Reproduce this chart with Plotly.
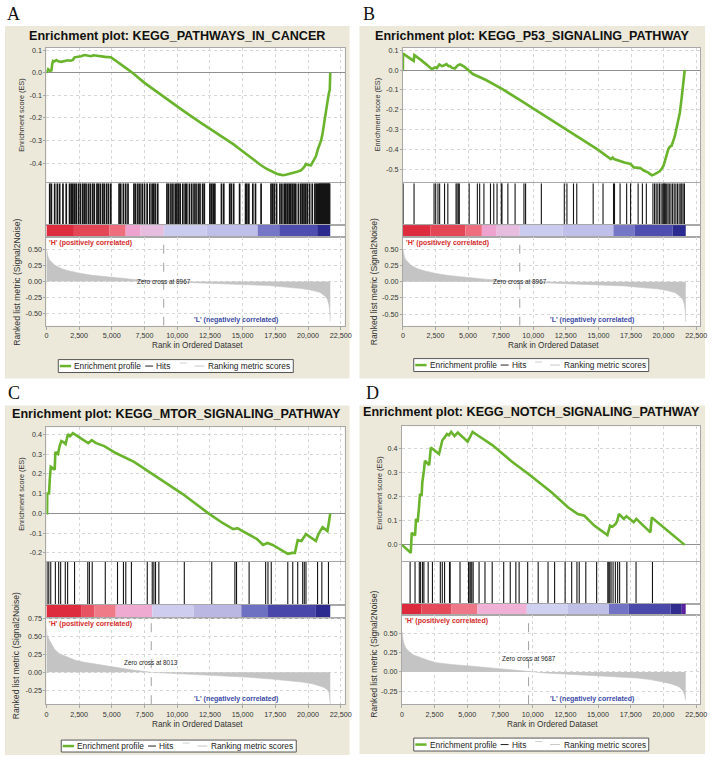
import plotly.graph_objects as go

W, H = 714, 757
FONT = "Liberation Sans, Arial, sans-serif"

# ----------------------------- data -----------------------------
x_tick_vals = [0, 2500, 5000, 7500, 10000, 12500, 15000, 17500, 20000, 22500]
x_tick_text = ["0", "2,500", "5,000", "7,500", "10,000", "12,500", "15,000",
               "17,500", "20,000", "22,500"]
x_max = 22800

panel_letters = ["A", "B", "C", "D"]
panel_titles = ["Enrichment plot: KEGG_PATHWAYS_IN_CANCER",
                "Enrichment plot: KEGG_P53_SIGNALING_PATHWAY",
                "Enrichment plot: KEGG_MTOR_SIGNALING_PATHWAY",
                "Enrichment plot: KEGG_NOTCH_SIGNALING_PATHWAY"]
zero_cross = [8967, 8967, 8013, 9687]

a_es_ticks = [-0.4, -0.3, -0.2, -0.1, 0.0, 0.1]
b_es_ticks = [-0.5, -0.4, -0.3, -0.2, -0.1, 0.0, 0.1]
c_es_ticks = [-0.2, -0.1, 0.0, 0.1, 0.2, 0.3, 0.4]
d_es_ticks = [0.0, 0.1, 0.2, 0.3, 0.4]
ab_met_ticks = [-0.5, -0.25, 0.0, 0.25, 0.5]
c_met_ticks = [-0.25, 0.0, 0.25, 0.5, 0.75]
d_met_ticks = [-0.25, 0.0, 0.25, 0.5]

# Panel A: running enrichment score
a_es_rank = [0, 60, 130, 250, 380, 450, 506, 620, 758, 900, 1138, 1400, 1643, 1850, 2022,
             2149, 2400, 2650, 2907, 3150, 3413, 3600, 3792, 4000, 4171, 4500, 4930, 5100,
             5309, 5900, 6573, 7500, 9227, 10500, 11755, 13000, 14283, 15100, 15800, 16300,
             16811, 17200, 17570, 17800, 18075, 18300, 18600, 18834, 19100, 19466, 19700,
             19845, 20000, 20224, 20400, 20603, 20750, 20856, 21000, 21109, 21200, 21311,
             21400, 21488, 21580, 21665, 21700]
a_es_val = [0.0, 0.012, 0.015, 0.008, 0.01, 0.04, 0.052, 0.05, 0.056, 0.05, 0.048, 0.052,
            0.055, 0.053, 0.056, 0.068, 0.07, 0.073, 0.078, 0.074, 0.073, 0.077, 0.075, 0.072,
            0.071, 0.07, 0.068, 0.062, 0.053, 0.028, 0.0, -0.045, -0.118, -0.17, -0.22,
            -0.268, -0.316, -0.352, -0.385, -0.405, -0.425, -0.437, -0.446, -0.45, -0.454,
            -0.452, -0.448, -0.445, -0.44, -0.432, -0.418, -0.404, -0.408, -0.41, -0.39,
            -0.37, -0.34, -0.325, -0.3, -0.27, -0.235, -0.19, -0.15, -0.118, -0.095, -0.075,
            0.0]
a_hits = [253, 379, 631, 833, 1010, 1263, 1515, 1768, 1894, 2020, 2146, 2273, 2449, 2601,
          2778, 2904, 3030, 3207, 3358, 3535, 3661, 3863, 3964, 4116, 4293, 4419, 4596, 4747,
          4924, 5555, 5681, 5883, 6060, 6237, 6691, 6818, 6994, 7146, 7323, 7499, 7701, 7903,
          8080, 8206, 8333, 8509, 9216, 9343, 9519, 9671, 9848, 9974, 10100, 10226, 10428,
          10605, 10731, 10933, 11110, 11287, 11438, 11615, 11741, 11943, 12070, 12499, 12625,
          12751, 12878, 13383, 13559, 14014, 14140, 14317, 14771, 15226, 15327, 15478, 15781,
          15983, 16413, 17170, 17296, 17423, 17599, 17852, 18003, 18180, 18306, 18433, 18559,
          18685, 18811, 18938, 19064, 19266, 19443, 19569, 19695, 19821, 19948, 20124, 20326,
          20528, 20629, 20730, 20831, 20900, 20958, 21020, 21084, 21150, 21210, 21270, 21336,
          21400, 21463, 21530, 21589, 21650]

# Panel B: running enrichment score
b_es_rank = [0, 10, 832, 882, 1400, 2000, 2218, 2470, 2600, 2797, 3000, 3100, 3352, 3500,
             3604, 3750, 3982, 4234, 4410, 4700, 5368, 6376, 7636, 8900, 10156, 11400, 12676,
             13936, 14900, 15952, 16100, 16200, 16500, 17000, 17464, 17716, 18220, 18472,
             18800, 19102, 19300, 19480, 19700, 19858, 20000, 20110, 20250, 20362, 20500,
             20614, 20750, 20866, 21000, 21118, 21244, 21370, 21496, 21560, 21622]
b_es_val = [0.0, 0.083, 0.046, 0.075, 0.05, 0.015, 0.005, 0.013, 0.01, 0.028, 0.02, 0.022,
            0.03, 0.02, 0.02, 0.012, 0.008, 0.025, 0.028, 0.018, -0.02, -0.05, -0.096,
            -0.148, -0.2, -0.252, -0.305, -0.357, -0.398, -0.448, -0.44, -0.448, -0.455,
            -0.465, -0.473, -0.49, -0.493, -0.506, -0.515, -0.53, -0.525, -0.517, -0.51,
            -0.497, -0.48, -0.456, -0.42, -0.398, -0.385, -0.381, -0.355, -0.332, -0.29,
            -0.249, -0.216, -0.149, -0.066, -0.03, 0.0]
b_hits = [15, 856, 2391, 2517, 2693, 2819, 3196, 3448, 4077, 4153, 4254, 4329, 5084, 5714,
          5890, 6217, 6720, 6972, 7224, 7551, 7601, 8054, 8608, 9288, 9414, 10622, 12384,
          12585, 13088, 13340, 14599, 15354, 16159, 16235, 16663, 17166, 17468, 18047, 18374,
          18676, 19180, 19306, 19431, 19557, 19683, 19809, 19935, 20010, 20061, 20136, 20237,
          20338, 20438, 20564, 20690, 20816, 20942, 21068, 21194, 21319, 21395, 21496, 21600]

# Panel C: running enrichment score
c_es_rank = [0, 50, 60, 200, 253, 330, 550, 632, 683, 885, 1011, 1138, 1300, 1466, 1643,
             1800, 2022, 2500, 3034, 3200, 3463, 3800, 4424, 5300, 6700, 8500, 10365, 12387,
             13500, 14283, 14600, 15000, 15500, 16100, 16558, 16900, 17300, 17900, 18454,
             18800, 19000, 19213, 19500, 19845, 20200, 20603, 20800, 21109, 21300, 21488,
             21600, 21700]
c_es_val = [0.0, 0.0, 0.1, 0.1, 0.17, 0.235, 0.225, 0.22, 0.31, 0.30, 0.34, 0.365, 0.36,
            0.35, 0.40, 0.39, 0.405, 0.385, 0.36, 0.355, 0.37, 0.355, 0.34, 0.305, 0.26,
            0.18, 0.1, 0.0, -0.05, -0.08, -0.075, -0.09, -0.11, -0.13, -0.16, -0.15, -0.16,
            -0.185, -0.205, -0.2, -0.2, -0.135, -0.14, -0.105, -0.12, -0.14, -0.105, -0.07,
            -0.08, -0.09, -0.045, 0.0]
c_hits = [50, 180, 330, 683, 935, 1087, 1441, 1620, 2149, 3160, 3286, 3500, 4500, 5435,
          5890, 6067, 6497, 7710, 8090, 8216, 8342, 8595, 10542, 12640, 14410, 14536, 15497,
          16761, 16938, 17190, 18454, 18834, 19213, 19592, 19718, 19845, 20730, 21058, 21564]

# Panel D: running enrichment score
d_es_rank = [0, 679, 754, 1006, 1081, 1207, 1307, 1383, 1508, 1559, 1684, 1760, 2087, 2212,
             2841, 2941, 3092, 3268, 3444, 3600, 3771, 4022, 4274, 5028, 5405, 5782, 6285,
             6914, 8422, 9679, 11439, 12696, 13450, 13953, 14707, 15713, 15914, 16100, 16341,
             16466, 16592, 16800, 16970, 17170, 17724, 17925, 19000, 19106, 21620]
d_es_val = [0.0, -0.033, 0.05, 0.039, 0.108, 0.094, 0.156, 0.211, 0.204, 0.259, 0.308,
            0.349, 0.331, 0.404, 0.377, 0.404, 0.434, 0.446, 0.46, 0.455, 0.469, 0.452,
            0.466, 0.428, 0.469, 0.455, 0.436, 0.414, 0.345, 0.294, 0.218, 0.156, 0.128,
            0.121, 0.08, 0.041, 0.08, 0.075, 0.087, 0.10, 0.128, 0.115, 0.108, 0.119, 0.094,
            0.108, 0.052, 0.114, 0.0]
d_hits = [628, 1004, 1331, 1431, 1582, 1682, 2009, 2335, 2938, 3089, 3264, 3641, 3691, 4444,
          5097, 5198, 5273, 5348, 5449, 5901, 6353, 6905, 7784, 8286, 8713, 8964, 9617,
          10421, 11174, 11676, 12480, 12982, 13384, 13559, 14062, 14890, 15744, 15819, 15894,
          15995, 16146, 16322, 16497, 16648, 17200, 17903, 19159]

# Ranked list metric (A and B share the same ranked list)
ab_metric_rank = [0, 40, 126, 250, 380, 600, 900, 1138, 1600, 2000, 2528, 3500, 5056, 6500,
                  7710, 8967, 10500, 11755, 13500, 15547, 17000, 18075, 19500, 20350, 20900,
                  21109, 21350, 21488, 21600, 21660, 21700]
ab_metric_val = [0.50, 0.46, 0.38, 0.33, 0.30, 0.26, 0.225, 0.20, 0.17, 0.15, 0.128, 0.095,
                 0.06, 0.035, 0.015, 0.0, -0.012, -0.025, -0.038, -0.05, -0.065, -0.085,
                 -0.11, -0.14, -0.17, -0.2, -0.24, -0.28, -0.36, -0.45, -0.62]
c_metric_rank = [0, 50, 253, 450, 632, 1000, 1643, 2200, 2907, 4000, 5056, 6500, 8013, 9800,
                 11755, 13500, 15547, 17000, 18075, 19500, 20350, 20900, 21235, 21450, 21614,
                 21700]
c_metric_val = [0.63, 0.52, 0.44, 0.37, 0.32, 0.26, 0.21, 0.17, 0.14, 0.105, 0.08, 0.035,
                0.0, -0.015, -0.032, -0.05, -0.07, -0.09, -0.106, -0.135, -0.16, -0.185,
                -0.21, -0.24, -0.28, -0.44]
d_metric_rank = [0, 40, 126, 300, 503, 900, 1383, 2000, 2640, 3800, 5154, 6500, 7668, 9687,
                 11000, 12696, 14500, 16467, 18000, 18981, 20000, 20489, 21000, 21243, 21495,
                 21620, 21700]
d_metric_val = [0.53, 0.46, 0.38, 0.31, 0.27, 0.22, 0.185, 0.15, 0.12, 0.095, 0.078, 0.055,
                0.035, 0.0, -0.015, -0.03, -0.045, -0.06, -0.08, -0.10, -0.13, -0.15, -0.18,
                -0.2, -0.25, -0.3, -0.37]

# Colour bar of the ranked list (segments)
ab_bar_start = [0, 2100, 4800, 6060, 7200, 8970, 12250, 16150, 17800, 20700]
ab_bar_end = [2100, 4800, 6060, 7200, 8970, 12250, 16150, 17800, 20700, 21700]
ab_bar_color = ['#dc2c3e', '#e44656', '#ee6e7e', '#eea2cf', '#e6bcdf', '#cbcaef', '#c0bfe9',
                '#7676c6', '#4e4db0', '#2b2a8e']
c_bar_start = [0, 2650, 3650, 5300, 8090, 11250, 14900, 16940, 20600]
c_bar_end = [2650, 3650, 5300, 8090, 11250, 14900, 16940, 20600, 21700]
c_bar_color = ['#dd2c3e', '#e65262', '#ef7a88', '#efaad2', '#cecdef', '#bab8e3', '#6e70c1',
               '#4947a9', '#2c2a8e']
d_bar_start = [0, 1500, 3800, 5780, 9550, 12700, 15830, 17340, 20550, 21400]
d_bar_end = [1500, 3800, 5780, 9550, 12700, 15830, 17340, 20550, 21400, 21700]
d_bar_color = ['#dc2a3c', '#e44a5a', '#ef7888', '#efb1d6', '#d0d0f0', '#c0bfe8', '#7273c4',
               '#4a49aa', '#2f2c8e', '#5a22a0']

legend_labels = ["Enrichment profile", "Hits", "Ranking metric scores"]

# ----------------------------- layout config (pixels) -----------------------------
panels = [
    dict(es=(a_es_rank, a_es_val), hits=a_hits, met=(ab_metric_rank, ab_metric_val),
         bar=(ab_bar_start, ab_bar_end, ab_bar_color), es_ticks=a_es_ticks, met_ticks=ab_met_ticks,
         hit_w=1.7,
         x0=45, x1=347, y_es=(45, 180), y_hits=(181, 223), y_cb=(223, 235), y_met=(235, 324),
         bg=(3, 23, 352, 377), letter=(12, 11), title=(177, 33), es_yt_x=19, met_yt=(15, 280),
         xt_y=344, legend=(57, 358, 371), es_range=(-0.485, 0.11), met_range=(-0.69, 0.69),
         zc_y=0.0),
    dict(es=(b_es_rank, b_es_val), hits=b_hits, met=(ab_metric_rank, ab_metric_val),
         bar=(ab_bar_start, ab_bar_end, ab_bar_color), es_ticks=b_es_ticks, met_ticks=ab_met_ticks,
         hit_w=1.1,
         x0=406, x1=707, y_es=(45, 180), y_hits=(181, 223), y_cb=(223, 235), y_met=(235, 324),
         bg=(362, 23, 712, 377), letter=(372, 11), title=(537, 33), es_yt_x=380, met_yt=(377, 280),
         xt_y=344, legend=(417, 357, 370), es_range=(-0.565, 0.112), met_range=(-0.68, 0.69),
         zc_y=0.0),
    dict(es=(c_es_rank, c_es_val), hits=c_hits, met=(c_metric_rank, c_metric_val),
         bar=(c_bar_start, c_bar_end, c_bar_color), es_ticks=c_es_ticks, met_ticks=c_met_ticks,
         hit_w=1.1,
         x0=45, x1=347, y_es=(426, 560), y_hits=(561, 604), y_cb=(604, 617), y_met=(617, 704),
         bg=(3, 404, 352, 755), letter=(12, 392), title=(177, 413), es_yt_x=19, met_yt=(15, 655),
         xt_y=724, legend=(60, 740, 752), es_range=(-0.24, 0.435), met_range=(-0.445, 0.765),
         zc_y=0.14),
    dict(es=(d_es_rank, d_es_val), hits=d_hits, met=(d_metric_rank, d_metric_val),
         bar=(d_bar_start, d_bar_end, d_bar_color), es_ticks=d_es_ticks, met_ticks=d_met_ticks,
         hit_w=1.1,
         x0=405, x1=707, y_es=(425, 560), y_hits=(561, 603), y_cb=(603, 614), y_met=(614, 704),
         bg=(362, 404, 712, 754), letter=(375, 392), title=(536, 411), es_yt_x=382, met_yt=(377, 654),
         xt_y=724, legend=(417, 738, 751), es_range=(-0.066, 0.492), met_range=(-0.42, 0.745),
         zc_y=0.18),
]

GREEN = '#6ab42d'
FRAME = '#a8a8a8'
GRID = '#d6d6d6'
BEIGE = '#ECE9DA'
TICKC = '#333333'


def xp(px):
    return px / W


def yp(py):
    return 1 - py / H


def axkey(letter, n):
    return f"{letter}axis" + ("" if n == 1 else str(n))


def axref(letter, n):
    return letter + ("" if n == 1 else str(n))


fig = go.Figure()
lay = {}
shapes = []
ann = []

for i, p in enumerate(panels):
    n_es, n_hits, n_cb, n_met = 4 * i + 1, 4 * i + 2, 4 * i + 3, 4 * i + 4
    xdom = [xp(p['x0']), xp(p['x1'])]

    def ydom(r):
        return [yp(r[1]), yp(r[0])]

    base_x = dict(domain=xdom, range=[0, x_max], showline=True, mirror=True, linecolor=FRAME,
                  linewidth=1, zeroline=False, tickvals=x_tick_vals, fixedrange=True)
    base_y = dict(showline=True, mirror=True, linecolor=FRAME, linewidth=1, fixedrange=True)

    # ES axes
    lay[axkey('x', n_es)] = dict(base_x, anchor=axref('y', n_es), showgrid=True, gridcolor=GRID,
                                 griddash='dot', showticklabels=False, ticks='')
    lay[axkey('y', n_es)] = dict(base_y, domain=ydom(p['y_es']), anchor=axref('x', n_es),
                                 range=list(p['es_range']), tickvals=p['es_ticks'],
                                 ticktext=[f"{v:.1f}" for v in p['es_ticks']],
                                 showgrid=True, gridcolor=GRID, griddash='dot', zeroline=True,
                                 zerolinecolor='#8f8f8f', zerolinewidth=1, ticks='outside',
                                 ticklen=2, tickcolor=FRAME,
                                 tickfont=dict(size=7.2, color=TICKC, family=FONT))
    # hits axes
    lay[axkey('x', n_hits)] = dict(base_x, anchor=axref('y', n_hits), showgrid=True, gridcolor=GRID,
                                   griddash='dot', showticklabels=False, ticks='')
    lay[axkey('y', n_hits)] = dict(base_y, domain=ydom(p['y_hits']), anchor=axref('x', n_hits),
                                   range=[0, 1], showgrid=False, zeroline=False,
                                   showticklabels=False, ticks='')
    # colour bar axes
    lay[axkey('x', n_cb)] = dict(base_x, anchor=axref('y', n_cb), showgrid=False,
                                 showticklabels=False, ticks='')
    lay[axkey('y', n_cb)] = dict(base_y, domain=ydom(p['y_cb']), anchor=axref('x', n_cb),
                                 range=[-0.5, 0.5], showgrid=False, zeroline=False,
                                 showticklabels=False, ticks='')
    # metric axes
    lay[axkey('x', n_met)] = dict(base_x, anchor=axref('y', n_met), showgrid=True, gridcolor=GRID,
                                  griddash='dot', ticktext=x_tick_text, ticks='outside', ticklen=3,
                                  tickcolor=FRAME, tickfont=dict(size=7.2, color=TICKC, family=FONT))
    lay[axkey('y', n_met)] = dict(base_y, domain=ydom(p['y_met']), anchor=axref('x', n_met),
                                  range=list(p['met_range']), tickvals=p['met_ticks'],
                                  ticktext=[f"{v:.2f}" for v in p['met_ticks']],
                                  showgrid=True, gridcolor=GRID, griddash='dot', zeroline=False,
                                  ticks='outside', ticklen=2, tickcolor=FRAME,
                                  tickfont=dict(size=7.2, color=TICKC, family=FONT))

    # traces ------------------------------------------------------------
    mr, mv = p['met']
    fig.add_trace(go.Scatter(x=mr, y=mv, mode='lines', fill='tozeroy', fillcolor='#c4c4c4',
                             line=dict(color='#c4c4c4', width=0.6), hoverinfo='skip',
                             xaxis=axref('x', n_met), yaxis=axref('y', n_met)))
    zc = zero_cross[i]
    fig.add_trace(go.Scatter(x=[zc, zc], y=list(p['met_range']), mode='lines',
                             line=dict(color='#a0a0a0', width=1, dash='dash'), hoverinfo='skip',
                             xaxis=axref('x', n_met), yaxis=axref('y', n_met)))

    hx, hy = [], []
    for r in p['hits']:
        hx += [r, r, None]
        hy += [0, 1, None]
    fig.add_trace(go.Scatter(x=hx, y=hy, mode='lines',
                             line=dict(color='#151515', width=p['hit_w']),
                             hoverinfo='skip', xaxis=axref('x', n_hits), yaxis=axref('y', n_hits)))

    bs, be, bc = p['bar']
    fig.add_trace(go.Bar(x=[e - s for s, e in zip(bs, be)], base=bs, y=[0] * len(bs),
                         orientation='h', width=1, marker=dict(color=bc, line=dict(width=0)),
                         hoverinfo='skip', xaxis=axref('x', n_cb), yaxis=axref('y', n_cb)))

    er, ev = p['es']
    fig.add_trace(go.Scatter(x=er, y=ev, mode='lines', line=dict(color=GREEN, width=2.6),
                             hoverinfo='skip', xaxis=axref('x', n_es), yaxis=axref('y', n_es)))

    # shapes: beige panel, white plotting column, legend box ---------------
    bx0, by0, bx1, by1 = p['bg']
    shapes.append(dict(type='rect', xref='paper', yref='paper', x0=xp(bx0), x1=xp(bx1),
                       y0=yp(by1), y1=yp(by0), fillcolor=BEIGE, line=dict(width=0), layer='below'))
    shapes.append(dict(type='rect', xref='paper', yref='paper', x0=xp(p['x0']), x1=xp(p['x1']),
                       y0=yp(p['y_met'][1]), y1=yp(p['y_es'][0]), fillcolor='white',
                       line=dict(width=0), layer='below'))
    lx, ly0, ly1 = p['legend']
    lym = (ly0 + ly1) / 2
    shapes.append(dict(type='rect', xref='paper', yref='paper', x0=xp(lx), x1=xp(lx + 238),
                       y0=yp(ly1), y1=yp(ly0), fillcolor='white',
                       line=dict(width=1, color='#555555'), layer='below'))
    shapes.append(dict(type='line', xref='paper', yref='paper', x0=xp(lx + 1.5), x1=xp(lx + 13),
                       y0=yp(lym), y1=yp(lym), line=dict(color=GREEN, width=2.5), layer='below'))
    shapes.append(dict(type='line', xref='paper', yref='paper', x0=xp(lx + 88), x1=xp(lx + 96),
                       y0=yp(lym), y1=yp(lym), line=dict(color='#222222', width=1), layer='below'))
    shapes.append(dict(type='line', xref='paper', yref='paper', x0=xp(lx + 123), x1=xp(lx + 130),
                       y0=yp(lym - 3), y1=yp(lym - 3), line=dict(color='#cfcfcf', width=1),
                       layer='below'))
    shapes.append(dict(type='line', xref='paper', yref='paper', x0=xp(lx + 138), x1=xp(lx + 148),
                       y0=yp(lym), y1=yp(lym), line=dict(color='#c8c8c8', width=1), layer='below'))

    # annotations ----------------------------------------------------------
    def paper_text(text, x, y, size, color='#222222', xanchor='center', angle=0, weight='normal',
                   family=FONT):
        ann.append(dict(text=text, xref='paper', yref='paper', x=xp(x), y=yp(y),
                        xanchor=xanchor, yanchor='middle', showarrow=False, textangle=angle,
                        font=dict(size=size, color=color, family=family, weight=weight)))

    paper_text(panel_letters[i], p['letter'][0], p['letter'][1], 18, color='#111111',
               family="Liberation Serif, Times New Roman, serif")
    paper_text(panel_titles[i], p['title'][0], p['title'][1], 12.6, color='#111111',
               weight='bold')
    paper_text("Enrichment score (ES)", p['es_yt_x'], sum(p['y_es']) / 2, 7.3, color='#333333',
               angle=-90)
    paper_text("Ranked list metric (Signal2Noise)", p['met_yt'][0], p['met_yt'][1], 8.6,
               color='#333333', angle=-90)
    paper_text("Rank in Ordered Dataset", (p['x0'] + p['x1']) / 2 + 2, p['xt_y'], 8.2,
               color='#333333')
    paper_text(legend_labels[0], lx + 14, lym, 8.3, color='#222222', xanchor='left')
    paper_text(legend_labels[1], lx + 97, lym, 8.3, color='#222222', xanchor='left')
    paper_text(legend_labels[2], lx + 150, lym, 8.3, color='#222222', xanchor='left')

    mref_x, mref_y = axref('x', n_met), axref('y', n_met)
    ann.append(dict(text=f"Zero cross at {zc}", xref=mref_x, yref=mref_y, x=zc, y=p['zc_y'],
                    xanchor='center', yanchor='middle', showarrow=False,
                    font=dict(size=6.4, color='#222222', family=FONT)))
    ann.append(dict(text="'H' (positively correlated)", xref=mref_x + ' domain',
                    yref=mref_y + ' domain', x=0.003, y=1, xanchor='left', yanchor='top',
                    showarrow=False, font=dict(size=7, color='#d42a2a', family=FONT,
                                               weight='bold')))
    ann.append(dict(text="'L' (negatively correlated)", xref=mref_x, yref=mref_y + ' domain',
                    x=14500, y=0.06, xanchor='center', yanchor='middle', showarrow=False,
                    font=dict(size=7, color='#3b4aa6', family=FONT, weight='bold')))

lay.update(dict(width=W, height=H, autosize=False, margin=dict(l=0, r=0, t=0, b=0),
                paper_bgcolor='white', plot_bgcolor='white', showlegend=False,
                barmode='overlay', shapes=shapes, annotations=ann,
                font=dict(family=FONT)))
fig.update_layout(**lay)
fig.write_html("out.html", config={'displayModeBar': False},
               post_script="document.body.style.margin='0';document.body.style.padding='0';"
                           "document.body.style.overflow='hidden';")
